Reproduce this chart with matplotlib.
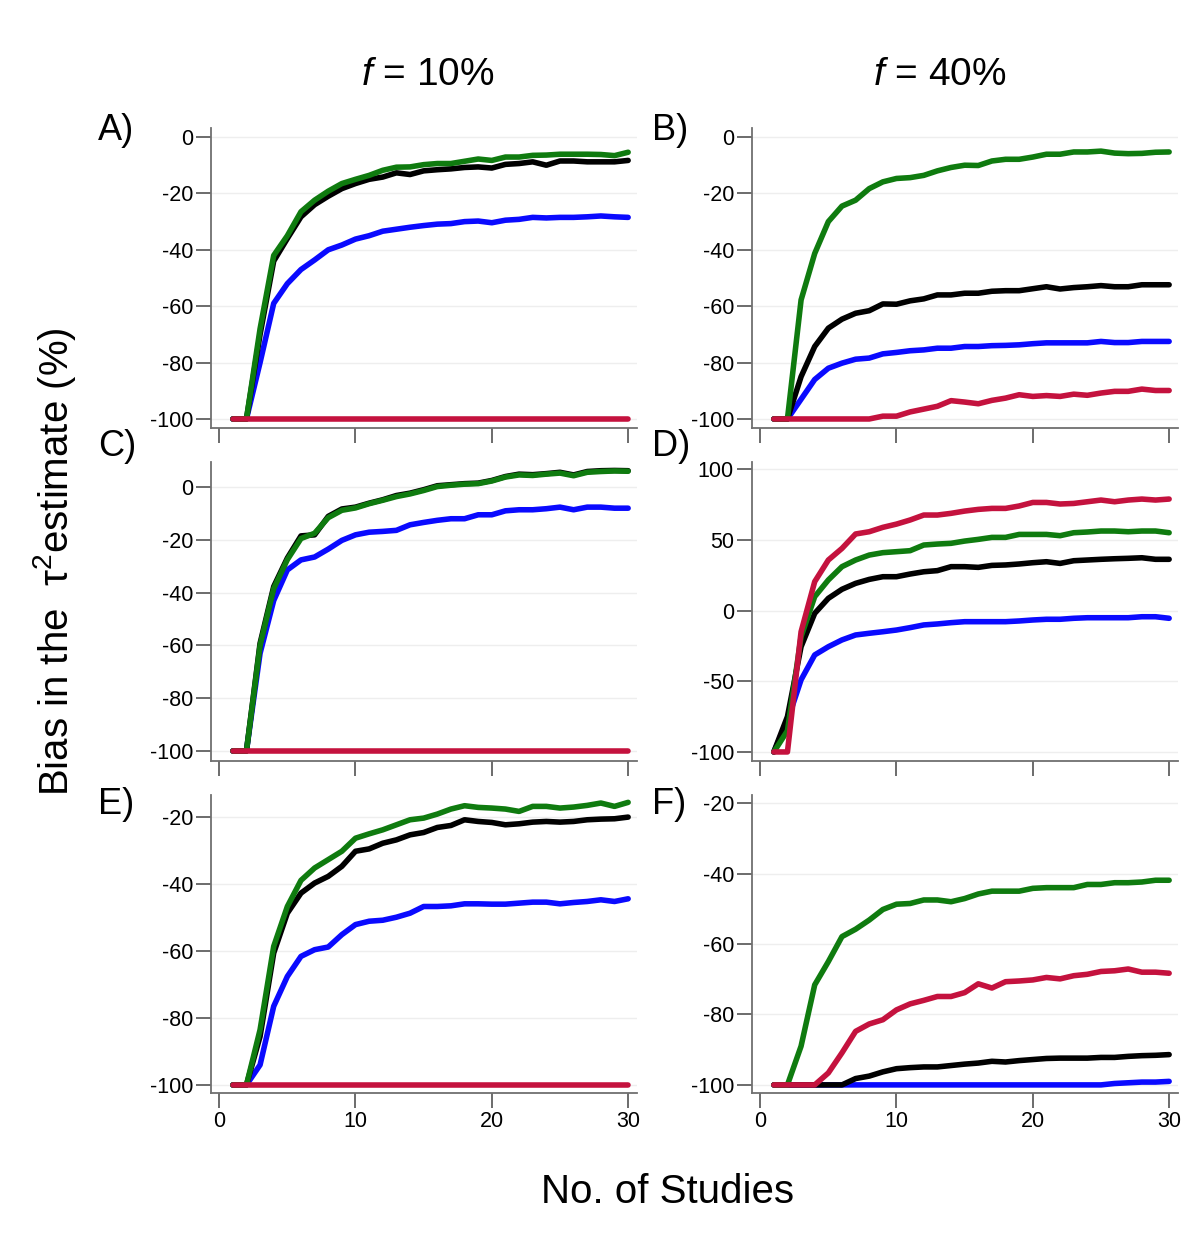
import matplotlib
matplotlib.use("Agg")
import matplotlib.pyplot as plt

plt.rcParams['font.family'] = ['Liberation Sans', 'DejaVu Sans']
plt.rcParams['axes.unicode_minus'] = False
plt.rcParams['mathtext.fontset'] = 'custom'
plt.rcParams['mathtext.rm'] = 'Liberation Sans'
plt.rcParams['mathtext.it'] = 'Liberation Sans:italic'

studies = list(range(1, 31))

# Panel A (f = 10%)
green_A = [-100, -100, -68, -42, -35, -26.5, -22.4, -19.2, -16.5, -15, -13.6, -11.8, -10.7, -10.6, -9.8,
           -9.4, -9.4, -8.6, -7.8, -8.3, -7.1, -7.1, -6.5, -6.4, -6.1, -6.1, -6.1, -6.2, -6.6, -5.4]
black_A = [-100, -100, -70, -44, -36, -28.3, -24, -21, -18.3, -16.5, -15, -14.2, -12.7, -13.3, -12,
           -11.6, -11.3, -10.8, -10.6, -11, -9.7, -9.4, -8.8, -10, -8.5, -8.5, -8.8, -8.8, -8.8, -8.3]
blue_A = [-100, -100, -80, -59, -52, -47, -43.6, -40, -38.3, -36.2, -35, -33.4, -32.7, -32, -31.4,
          -30.9, -30.7, -30, -29.8, -30.4, -29.5, -29.2, -28.5, -28.7, -28.5, -28.5, -28.3, -28, -28.3, -28.5]
red_A = [-100, -100, -100, -100, -100, -100, -100, -100, -100, -100, -100, -100, -100, -100, -100,
         -100, -100, -100, -100, -100, -100, -100, -100, -100, -100, -100, -100, -100, -100, -100]

# Panel B (f = 40%)
green_B = [-100, -100, -57.8, -41.3, -30, -24.5, -22.4, -18.3, -15.9, -14.7, -14.4, -13.6, -12, -10.8, -10,
           -10.1, -8.5, -7.9, -7.9, -7.1, -6.1, -6.1, -5.3, -5.3, -5, -5.7, -5.9, -5.8, -5.4, -5.3]
black_B = [-100, -100, -85, -74.3, -67.8, -64.6, -62.5, -61.6, -59.2, -59.3, -58.1, -57.4, -56, -56, -55.4,
           -55.4, -54.7, -54.5, -54.5, -53.8, -53.1, -53.9, -53.4, -53.1, -52.7, -53.1, -53.1, -52.4, -52.4, -52.4]
blue_B = [-100, -100, -93, -86, -82, -80.2, -78.8, -78.4, -76.9, -76.4, -75.8, -75.5, -74.9, -74.9, -74.3,
          -74.3, -74, -73.9, -73.7, -73.3, -73, -73, -73, -73, -72.5, -72.9, -72.9, -72.5, -72.5, -72.5]
red_B = [-100, -100, -100, -100, -100, -100, -100, -100, -99, -99, -97.5, -96.5, -95.5, -93.5, -94,
         -94.6, -93.4, -92.6, -91.4, -92, -91.7, -92, -91.2, -91.6, -90.8, -90.2, -90.2, -89.4, -89.9, -89.9]

# Panel C
green_C = [-100, -100, -60, -38.5, -27.5, -19.5, -17.5, -11.6, -8.8, -7.9, -6.3, -5, -3.6, -2.6, -1.3,
           0.2, 0.7, 1.1, 1.3, 2.3, 3.8, 4.6, 4.4, 4.9, 5.3, 4.3, 5.6, 5.9, 6.1, 6]
black_C = [-100, -100, -59.2, -37.7, -26.9, -18.5, -18.1, -11.1, -8.3, -7.6, -6.1, -4.8, -3.2, -2.3, -1,
           0.5, 0.9, 1.3, 1.5, 2.5, 4, 4.9, 4.7, 5.1, 5.6, 4.6, 5.9, 6.2, 6.3, 6.2]
blue_C = [-100, -100, -63, -43, -31.4, -27.6, -26.5, -23.5, -20.2, -18.1, -17.1, -16.8, -16.4, -14.3, -13.4,
          -12.6, -12, -12, -10.5, -10.5, -9, -8.6, -8.6, -8.2, -7.6, -8.6, -7.6, -7.6, -8, -8]
red_C = [-100, -100, -100, -100, -100, -100, -100, -100, -100, -100, -100, -100, -100, -100, -100,
         -100, -100, -100, -100, -100, -100, -100, -100, -100, -100, -100, -100, -100, -100, -100]

# Panel D
green_D = [-100, -85, -18.5, 9.8, 21.6, 31, 35.7, 39.2, 40.9, 41.6, 42.3, 46.3, 47, 47.5, 49.1,
           50.3, 51.7, 51.7, 53.8, 53.8, 53.8, 52.9, 55, 55.5, 56.2, 56.2, 55.7, 56.2, 56.2, 55]
black_D = [-100, -75, -25.6, -2, 8.6, 15, 19.2, 22, 23.9, 23.9, 25.8, 27.4, 28.2, 31, 31,
           30.5, 31.9, 32.2, 32.9, 33.8, 34.5, 33.3, 35.2, 35.7, 36.2, 36.6, 36.9, 37.3, 36.2, 36.2]
blue_D = [-100, -78, -49, -31.4, -25.6, -20.8, -17.3, -16.1, -15, -13.8, -12.1, -10.2, -9.5, -8.6, -7.9,
          -7.9, -7.9, -7.9, -7.4, -6.7, -6.2, -6.2, -5.5, -5.1, -5.1, -5.1, -5.1, -4.4, -4.4, -5.5]
red_D = [-100, -100, -15, 20.4, 35.7, 43.9, 54.1, 55.7, 58.8, 61.1, 64, 67.5, 67.5, 68.7, 70.3,
         71.5, 72.2, 72.2, 73.9, 76.4, 76.4, 75.3, 75.7, 76.9, 78.1, 76.9, 78.1, 78.8, 78.1, 78.8]

# Panel E
green_E = [-100, -100, -83.5, -58.6, -46.7, -38.9, -35.2, -32.7, -30.2, -26.3, -25, -23.8, -22.3, -20.8, -20.3,
           -19.1, -17.6, -16.6, -17.1, -17.3, -17.6, -18.3, -16.8, -16.8, -17.3, -17, -16.5, -15.8, -16.8, -15.6]
black_E = [-100, -100, -85.5, -60.6, -48.7, -42.7, -39.7, -37.7, -34.7, -30.2, -29.5, -27.8, -26.8, -25.3, -24.6,
           -23.1, -22.5, -20.8, -21.3, -21.6, -22.3, -22, -21.5, -21.3, -21.5, -21.3, -20.8, -20.6, -20.5, -20]
blue_E = [-100, -100, -94, -76.5, -67.6, -61.6, -59.6, -58.8, -55.1, -52.1, -51.1, -50.8, -49.9, -48.7, -46.7,
          -46.7, -46.5, -45.9, -45.9, -46, -46, -45.7, -45.4, -45.4, -45.9, -45.5, -45.2, -44.7, -45.2, -44.4]
red_E = [-100, -100, -100, -100, -100, -100, -100, -100, -100, -100, -100, -100, -100, -100, -100,
         -100, -100, -100, -100, -100, -100, -100, -100, -100, -100, -100, -100, -100, -100, -100]

# Panel F
green_F = [-100, -100, -89, -71.6, -65, -57.9, -55.8, -53.2, -50.2, -48.7, -48.5, -47.5, -47.5, -48, -47.1,
           -45.8, -45, -45, -45, -44.2, -44, -44, -44, -43.1, -43.1, -42.6, -42.6, -42.4, -41.9, -41.9]
black_F = [-100, -100, -100, -100, -100, -100, -98.2, -97.5, -96.3, -95.4, -95.1, -94.9, -94.9, -94.5, -94.1,
           -93.8, -93.3, -93.5, -93.1, -92.8, -92.5, -92.4, -92.4, -92.4, -92.2, -92.2, -91.9, -91.7, -91.6, -91.4]
blue_F = [-100, -100, -100, -100, -100, -100, -100, -100, -100, -100, -100, -100, -100, -100, -100,
          -100, -100, -100, -100, -100, -100, -100, -100, -100, -100, -99.6, -99.4, -99.2, -99.2, -99]
red_F = [-100, -100, -100, -100, -96.6, -90.9, -84.8, -82.7, -81.5, -78.7, -77, -76, -74.9, -74.9, -73.8,
         -71.3, -72.5, -70.7, -70.5, -70.2, -69.5, -69.9, -69, -68.6, -67.8, -67.6, -67.1, -68, -68, -68.3]

panel_letters = ["A)", "B)", "C)", "D)", "E)", "F)"]
col_titles = ["10%", "40%"]
x_ticks = [0, 10, 20, 30]

BLUE = "#0a0aff"
BLACK = "#000000"
GREEN = "#0f7b0f"
RED = "#c4123e"

panels = [
    (blue_A, black_A, green_A, red_A, [-100, -80, -60, -40, -20, 0], (-103.2, 3.2)),
    (blue_B, black_B, green_B, red_B, [-100, -80, -60, -40, -20, 0], (-103.2, 3.2)),
    (blue_C, black_C, green_C, red_C, [-100, -80, -60, -40, -20, 0], (-103.8, 9.5)),
    (blue_D, black_D, green_D, red_D, [-100, -50, 0, 50, 100], (-106.4, 105)),
    (blue_E, black_E, green_E, red_E, [-100, -80, -60, -40, -20], (-102.4, -13.4)),
    (blue_F, black_F, green_F, red_F, [-100, -80, -60, -40, -20], (-102.3, -17.7)),
]

W, H = 1200, 1258
fig = plt.figure(figsize=(12, 12.58), dpi=100)

lefts = [211, 752]
tops = [128, 462, 795]
bottoms = [428, 761, 1093]
ax_w = 426

for i, (blue, black, green, red, yt, ylim) in enumerate(panels):
    row, col = divmod(i, 2)
    ax = fig.add_axes([lefts[col] / W, 1 - bottoms[row] / H, ax_w / W, (bottoms[row] - tops[row]) / H])
    kw = dict(lw=4.0, solid_capstyle='round', solid_joinstyle='round')
    ax.plot(studies, blue, color=BLUE, **kw)
    ax.plot(studies, black, color=BLACK, **kw)
    ax.plot(studies, green, color=GREEN, **kw)
    ax.plot(studies, red, color=RED, **kw)

    ax.set_xlim(-0.6, 30.65)
    ax.set_ylim(*ylim)
    ax.set_yticks(yt)
    ax.set_xticks(x_ticks)
    ax.grid(axis='y', color='#eeeeee', lw=1.0)
    ax.set_axisbelow(True)
    for s in ['top', 'right']:
        ax.spines[s].set_visible(False)
    for s in ['left', 'bottom']:
        ax.spines[s].set_color('#707070')
        ax.spines[s].set_linewidth(1.3)
    ax.tick_params(axis='both', direction='out', length=11, width=1.3, color='#606060',
                   labelsize=15.5, pad=2)
    if row < 2:
        ax.tick_params(axis='x', labelbottom=False)

    lx = 98 if col == 0 else 652
    ly = [130, 446, 805][row]
    fig.text(lx / W, 1 - ly / H, panel_letters[i], fontsize=26, ha='left', va='center')

fig.text(428 / W, 1 - 75 / H, r"$f$ = " + col_titles[0], fontsize=28, ha='center', va='center')
fig.text(940 / W, 1 - 75 / H, r"$f$ = " + col_titles[1], fontsize=28, ha='center', va='center')

fig.text(668 / W, 1 - 1192 / H, "No. of Studies", fontsize=29, ha='center', va='center')
fig.text(55 / W, 1 - 562 / H, "Bias in the  τ$^{2}$estimate (%)", fontsize=29,
         ha='center', va='center', rotation=90)

fig.savefig("out.png", dpi=100, facecolor='white')
